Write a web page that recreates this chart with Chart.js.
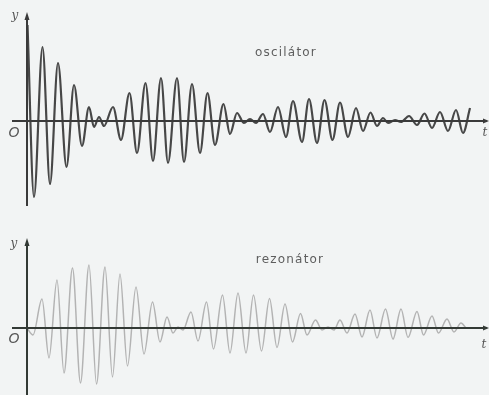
<!DOCTYPE html>
<html>
<head>
<meta charset="utf-8">
<script src="https://cdn.jsdelivr.net/npm/chart.js@4/dist/chart.umd.min.js"></script>
<style>
  html, body { margin: 0; padding: 0; background: #f2f4f4; }
  #wrap { position: relative; width: 489px; height: 395px; overflow: hidden; }
  canvas { position: absolute; left: 0; }
  #top { top: 0; }
  #bottom { top: 220px; }
</style>
</head>
<body>
<div id="wrap">
  <canvas id="top" width="489" height="220"></canvas>
  <canvas id="bottom" width="489" height="175"></canvas>
</div>
<script>
// Oscillator: turning points of the swinging curve (time, displacement)
const oscTime = [0.05, 0.7, 1.55, 2.3, 3.1, 3.95, 4.7, 5.5, 6.2, 6.7, 7.2, 7.7,
  8.6, 9.4, 10.25, 11.0, 11.85, 12.6, 13.4, 14.1, 15.0, 15.7, 16.5, 17.3, 18.05, 18.8,
  19.65, 20.3, 21.0, 21.7, 22.3, 22.9, 23.6, 24.3, 25.1, 25.9, 26.6, 27.5, 28.2, 29.0,
  29.75, 30.55, 31.3, 32.1, 32.9, 33.6, 34.35, 35.0, 35.6, 36.1, 36.8, 37.4, 38.2, 39.0,
  39.75, 40.5, 41.3, 42.1, 42.9, 43.6, 44.3];
const oscAmp = [9.6, -7.6, 7.4, -6.3, 5.8, -4.6, 3.6, -2.5, 1.4, -0.6, 0.4, -0.5,
  1.4, -1.9, 2.8, -3.2, 3.8, -4.0, 4.3, -4.2, 4.3, -4.1, 3.7, -3.2, 2.8, -2.4,
  1.7, -1.3, 0.8, -0.2, 0.2, -0.2, 0.7, -1.1, 1.4, -1.6, 2.0, -2.1, 2.2, -2.2,
  2.1, -1.9, 1.85, -1.6, 1.3, -1.0, 0.85, -0.5, 0.3, -0.2, 0.1, -0.1, 0.5, -0.4,
  0.75, -0.7, 0.9, -1.0, 1.1, -1.2, 1.3];

// Resonator: turning points of the driven curve (time, displacement)
const rezTime = [0, 0.6, 1.5, 2.2, 3.0, 3.7, 4.55, 5.35, 6.2, 6.95, 7.8, 8.55, 9.3,
  10.05, 10.9, 11.7, 12.55, 13.3, 14.0, 14.6, 15.1, 15.6, 16.4, 17.1, 17.95, 18.65,
  19.55, 20.3, 21.1, 21.9, 22.65, 23.45, 24.25, 25.0, 25.8, 26.55, 27.35, 28.0, 28.85,
  29.5, 30.1, 30.7, 31.3, 32.0, 32.8, 33.5, 34.3, 35.0, 35.85, 36.6, 37.4, 38.1, 39.0,
  39.65, 40.5, 41.15, 42.0, 42.7, 43.4, 43.9];
const rezAmp = [0, -0.7, 2.9, -3.0, 4.8, -4.5, 6.0, -5.5, 6.3, -5.6, 6.1, -4.9, 5.4,
  -3.8, 4.1, -2.6, 2.6, -1.4, 1.1, -0.5, 0.1, -0.2, 1.6, -1.3, 2.6, -2.1,
  3.3, -2.5, 3.5, -2.5, 3.3, -2.3, 2.95, -1.95, 2.4, -1.4, 1.45, -0.7, 0.8,
  -0.2, 0.1, -0.2, 0.8, -0.5, 1.4, -0.9, 1.8, -1.0, 1.9, -1.1, 1.9, -0.95, 1.65,
  -0.7, 1.2, -0.5, 0.9, -0.4, 0.5, 0.0];

const panelNames = ['oscilátor', 'rezonátor'];
const axisNames = ['y', 't', 'O'];

const toPoints = (ts, ys) => ts.map((t, i) => ({ x: t, y: ys[i] }));

// Draws the coordinate cross, arrowheads and the letters on it
const axesPlugin = {
  id: 'axes',
  afterDatasetsDraw(chart, args, o) {
    const { ctx, scales: { x, y } } = chart;
    const x0 = x.getPixelForValue(0), y0 = y.getPixelForValue(0);
    ctx.save();
    ctx.strokeStyle = o.color;
    ctx.fillStyle = o.color;
    ctx.lineWidth = 2;
    ctx.beginPath();
    ctx.moveTo(x.getPixelForValue(o.tFrom), y0);
    ctx.lineTo(x.getPixelForValue(o.tTo), y0);
    ctx.stroke();
    const yTop = y.getPixelForValue(o.yTo);
    ctx.beginPath();
    ctx.moveTo(x0, yTop + 3);
    ctx.lineTo(x0, y.getPixelForValue(o.yFrom));
    ctx.stroke();
    // arrowhead on the y axis
    ctx.beginPath();
    ctx.moveTo(x0, yTop - 2);
    ctx.lineTo(x0 - 2.5, yTop + 6);
    ctx.lineTo(x0 + 2.5, yTop + 6);
    ctx.closePath();
    ctx.fill();
    // small head at the end of the t axis
    const xe = x.getPixelForValue(o.tTo);
    ctx.beginPath();
    ctx.moveTo(xe + 2, y0);
    ctx.lineTo(xe - 4, y0 - 2.5);
    ctx.lineTo(xe - 4, y0 + 2.5);
    ctx.closePath();
    ctx.fill();

    ctx.fillStyle = '#555';
    ctx.textAlign = 'center';
    ctx.textBaseline = 'middle';
    ctx.font = 'italic 12px "DejaVu Serif"';
    ctx.fillText(axisNames[0], x.getPixelForValue(o.yLabel[0]), y.getPixelForValue(o.yLabel[1]));
    ctx.fillText(axisNames[1], x.getPixelForValue(o.tLabel[0]), y.getPixelForValue(o.tLabel[1]));
    ctx.font = 'italic 14px "DejaVu Sans"';
    ctx.fillText(axisNames[2], x.getPixelForValue(o.oLabel[0]), y.getPixelForValue(o.oLabel[1]));

    ctx.fillStyle = '#5e5e5e';
    ctx.font = '12px "DejaVu Sans"';
    ctx.letterSpacing = '1.2px';
    ctx.fillText(o.name, x.getPixelForValue(o.nameAt[0]), y.getPixelForValue(o.nameAt[1]));
    ctx.restore();
  }
};

function makePanel(id, pts, lineColor, lineWidth, yMin, yMax, axes) {
  return new Chart(document.getElementById(id), {
    type: 'line',
    data: {
      datasets: [{
        data: pts,
        borderColor: lineColor,
        borderWidth: lineWidth,
        pointRadius: 0,
        fill: false,
        cubicInterpolationMode: 'monotone'
      }]
    },
    options: {
      responsive: false,
      animation: false,
      events: [],
      layout: { padding: 0 },
      plugins: { legend: { display: false }, tooltip: { enabled: false }, axes },
      scales: {
        x: { type: 'linear', min: -2.7, max: 46.2, display: false },
        y: { type: 'linear', min: yMin, max: yMax, display: false }
      }
    },
    plugins: [axesPlugin]
  });
}

makePanel('top', toPoints(oscTime, oscAmp), '#474747', 2.2, -9.9, 12.1, {
  color: '#3a3a3a', tFrom: -1.5, tTo: 46.0, yFrom: -8.5, yTo: 10.7,
  yLabel: [-1.2, 10.5], tLabel: [45.8, -1.2], oLabel: [-1.3, -1.2],
  name: panelNames[0], nameAt: [25.9, 6.8]
});

makePanel('bottom', toPoints(rezTime, rezAmp), '#b3b3b3', 1.5, -6.7, 10.8, {
  color: '#333a35', tFrom: -1.5, tTo: 46.0, yFrom: -6.7, yTo: 8.8,
  yLabel: [-1.3, 8.4], tLabel: [45.7, -1.7], oLabel: [-1.3, -1.1],
  name: panelNames[1], nameAt: [26.3, 6.8]
});
</script>
</body>
</html>
